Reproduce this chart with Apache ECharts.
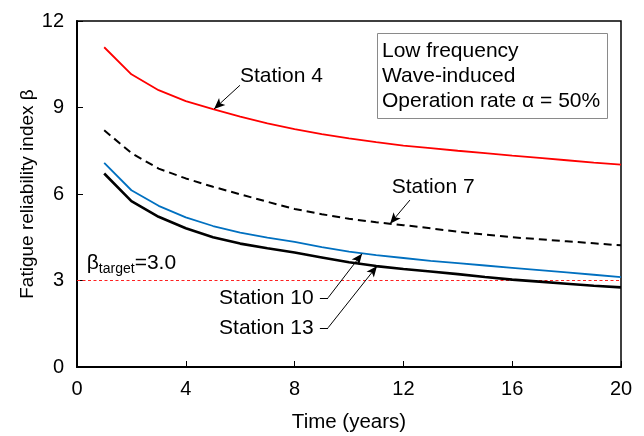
<!DOCTYPE html>
<html>
<head>
<meta charset="utf-8">
<script src="https://cdn.jsdelivr.net/npm/echarts@6/dist/echarts.min.js"></script>
<style>
  html, body { margin: 0; padding: 0; background: #fff; }
  #chart { width: 644px; height: 436px; }
</style>
</head>
<body>
<div id="chart"></div>
<script>
// Service time in years
const years = [1, 2, 3, 4, 5, 6, 7, 8, 9, 10, 11, 12, 13, 14, 15, 16, 17, 18, 19, 20];

// Fatigue reliability index beta per station
const station4  = [11.09, 10.15, 9.60, 9.22, 8.94, 8.68, 8.45, 8.25, 8.08, 7.93, 7.80, 7.68, 7.59, 7.50, 7.42, 7.33, 7.25, 7.17, 7.09, 7.02];
const station7  = [8.21, 7.42, 6.88, 6.54, 6.25, 5.99, 5.73, 5.48, 5.30, 5.14, 5.02, 4.92, 4.81, 4.69, 4.59, 4.50, 4.43, 4.36, 4.29, 4.22];
const station10 = [7.08, 6.13, 5.59, 5.19, 4.89, 4.66, 4.49, 4.34, 4.16, 4.00, 3.88, 3.78, 3.68, 3.60, 3.52, 3.44, 3.36, 3.28, 3.20, 3.12];
const station13 = [6.71, 5.75, 5.21, 4.81, 4.50, 4.28, 4.12, 3.97, 3.80, 3.63, 3.50, 3.40, 3.31, 3.22, 3.12, 3.03, 2.96, 2.89, 2.82, 2.76];

// Target reliability level
const betaTarget = 3.0;

// Axis ranges
const xRange = [0, 20];
const yRange = [0, 12];

const FONT = '"Liberation Sans", Arial, sans-serif';

const pairs = (ys) => years.map((t, i) => [t, ys[i]]);

const chart = echarts.init(document.getElementById('chart'), null, { renderer: 'canvas' });

// Annotation arrows (data coordinates)
const arrowLines = [
  [[5.99, 9.77], [5.04, 8.95], true],
  [[12.24, 5.79], [11.51, 4.97], true],
  [[8.93, 2.40], [9.23, 2.40], false],
  [[9.23, 2.40], [10.48, 3.93], true],
  [[8.93, 1.36], [9.23, 1.36], false],
  [[9.23, 1.36], [11.03, 3.50], true]
];

const option = {
  animation: false,
  backgroundColor: '#ffffff',
  title: {
    text: 'Low frequency\nWave-induced\nOperation rate \u03b1 = 50%',
    left: 377,
    top: 33,
    padding: [6, 8, 5, 5],
    borderColor: '#8a8a8a',
    borderWidth: 1,
    textStyle: {
      fontFamily: FONT,
      fontSize: 21,
      fontWeight: 'normal',
      color: '#000',
      lineHeight: 25
    }
  },
  grid: {
    left: 77,
    right: 23,
    top: 21,
    bottom: 69,
    outerBoundsMode: 'none',
    show: true,
    borderColor: '#000',
    borderWidth: 1.5,
    backgroundColor: 'transparent'
  },
  xAxis: {
    type: 'value',
    min: xRange[0],
    max: xRange[1],
    interval: 4,
    name: 'Time (years)',
    nameLocation: 'middle',
    nameGap: 45,
    nameMoveOverlap: false,
    nameTextStyle: { fontFamily: FONT, fontSize: 20.5, color: '#000' },
    axisLine: { show: true, lineStyle: { color: '#000', width: 2 } },
    axisTick: { show: true, inside: true, length: 6, lineStyle: { color: '#000', width: 1 } },
    axisLabel: { fontFamily: FONT, fontSize: 20, color: '#000', margin: 12 },
    splitLine: { show: false }
  },
  yAxis: {
    type: 'value',
    min: yRange[0],
    max: yRange[1],
    interval: 3,
    name: 'Fatigue reliability index \u03b2',
    nameLocation: 'middle',
    nameGap: 40,
    nameMoveOverlap: false,
    nameTextStyle: { fontFamily: FONT, fontSize: 19, color: '#000' },
    axisLine: { show: true, lineStyle: { color: '#000', width: 2 } },
    axisTick: { show: true, inside: true, length: 6, lineStyle: { color: '#000', width: 1 } },
    axisLabel: { fontFamily: FONT, fontSize: 20, color: '#000', margin: 13 },
    splitLine: { show: false }
  },
  series: [
    {
      name: 'Target',
      type: 'line',
      data: [[xRange[0], betaTarget], [xRange[1], betaTarget]],
      showSymbol: false,
      lineStyle: { color: '#ff2020', width: 1.1, type: [3, 2.5] },
      z: 1,
      markLine: {
        silent: true,
        symbol: ['none', 'arrow'],
        symbolSize: [7, 11],
        lineStyle: { color: '#000', width: 1, type: 'solid' },
        itemStyle: { color: '#000' },
        label: { show: false },
        emphasis: { disabled: true },
        data: arrowLines.map(([a, b, head]) => [
          { coord: a, symbol: 'none' },
          { coord: b, symbol: head ? 'arrow' : 'none' }
        ])
      }
    },
    {
      name: 'Station 4',
      type: 'line',
      data: pairs(station4),
      showSymbol: false,
      lineStyle: { color: '#ff0000', width: 1.8 },
      z: 3
    },
    {
      name: 'Station 7',
      type: 'line',
      data: pairs(station7),
      showSymbol: false,
      lineStyle: { color: '#000', width: 2, type: [8, 5] },
      z: 3
    },
    {
      name: 'Station 10',
      type: 'line',
      data: pairs(station10),
      showSymbol: false,
      lineStyle: { color: '#0070c0', width: 1.8 },
      z: 3
    },
    {
      name: 'Station 13',
      type: 'line',
      data: pairs(station13),
      showSymbol: false,
      lineStyle: { color: '#000', width: 2.6 },
      z: 4
    }
  ]
};

chart.setOption(option);

// Text annotations placed in data coordinates
const notes = [
  { at: [5.99, 10.08], text: 'Station 4', align: 'left' },
  { at: [11.57, 6.25], text: 'Station 7', align: 'left' },
  { at: [8.70, 2.38], text: 'Station 10', align: 'right' },
  { at: [8.70, 1.34], text: 'Station 13', align: 'right' }
];

const graphics = notes.map((n) => {
  const p = chart.convertToPixel({ gridIndex: 0 }, n.at);
  return {
    type: 'text',
    x: p[0],
    y: p[1],
    z: 10,
    style: {
      text: n.text,
      fill: '#000',
      font: '21px ' + FONT,
      align: n.align,
      verticalAlign: 'middle'
    }
  };
});

const tp = chart.convertToPixel({ gridIndex: 0 }, [0.36, 3.61]);
graphics.push({
  type: 'text',
  x: tp[0],
  y: tp[1],
  z: 10,
  style: {
    text: '{b|\u03b2}{s|target}{b|=' + betaTarget.toFixed(1) + '}',
    align: 'left',
    verticalAlign: 'middle',
    rich: {
      b: { fontFamily: FONT, fontSize: 21, fill: '#000', color: '#000', lineHeight: 26, verticalAlign: 'middle' },
      s: { fontFamily: FONT, fontSize: 14, fill: '#000', color: '#000', lineHeight: 26, verticalAlign: 'bottom', padding: [10, 0, 0, 0] }
    }
  }
});

chart.setOption({ graphic: graphics });
</script>
</body>
</html>
